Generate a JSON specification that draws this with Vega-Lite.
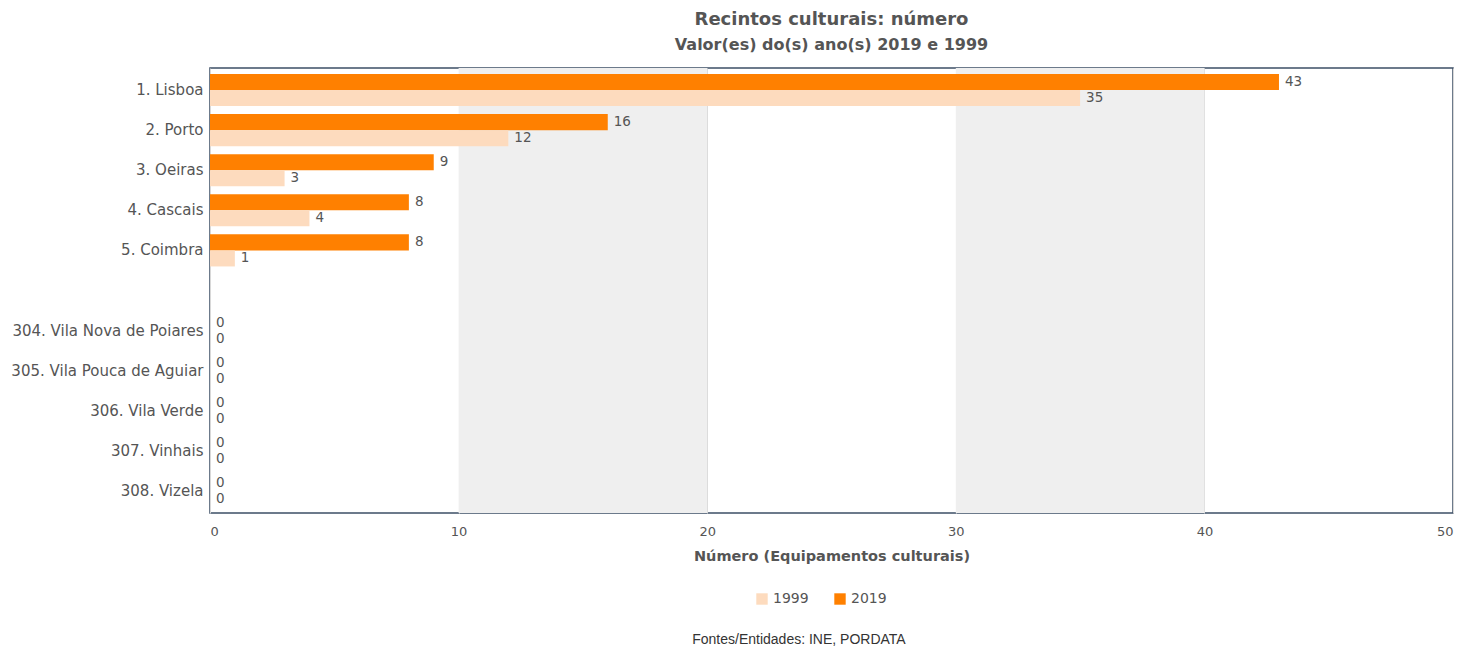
{
  "$schema": "https://vega.github.io/schema/vega-lite/v6.json",
  "background": "white",
  "padding": {"left": 10, "top": 10, "right": 20, "bottom": 2},
  "title": {"text": "Fontes/Entidades: INE, PORDATA", "orient": "bottom", "anchor": "middle", "font": "Liberation Sans", "fontSize": 14, "fontWeight": "normal", "color": "#333333", "offset": 27, "dx": 67},
  "datasets": {
    "bars": [
      {"city": "1. Lisboa", "year": "2019", "value": 43},
      {"city": "1. Lisboa", "year": "1999", "value": 35},
      {"city": "2. Porto", "year": "2019", "value": 16},
      {"city": "2. Porto", "year": "1999", "value": 12},
      {"city": "3. Oeiras", "year": "2019", "value": 9},
      {"city": "3. Oeiras", "year": "1999", "value": 3},
      {"city": "4. Cascais", "year": "2019", "value": 8},
      {"city": "4. Cascais", "year": "1999", "value": 4},
      {"city": "5. Coimbra", "year": "2019", "value": 8},
      {"city": "5. Coimbra", "year": "1999", "value": 1},
      {"city": "304. Vila Nova de Poiares", "year": "2019", "value": 0},
      {"city": "304. Vila Nova de Poiares", "year": "1999", "value": 0},
      {"city": "305. Vila Pouca de Aguiar", "year": "2019", "value": 0},
      {"city": "305. Vila Pouca de Aguiar", "year": "1999", "value": 0},
      {"city": "306. Vila Verde", "year": "2019", "value": 0},
      {"city": "306. Vila Verde", "year": "1999", "value": 0},
      {"city": "307. Vinhais", "year": "2019", "value": 0},
      {"city": "307. Vinhais", "year": "1999", "value": 0},
      {"city": "308. Vizela", "year": "2019", "value": 0},
      {"city": "308. Vizela", "year": "1999", "value": 0}
    ],
    "bands": [
      {"start": 10, "end": 20},
      {"start": 30, "end": 40}
    ]
  },
  "vconcat": [
    {
      "width": 1243,
      "height": 445,
      "title": {
        "text": "Recintos culturais: número",
        "subtitle": "Valor(es) do(s) ano(s) 2019 e 1999",
        "anchor": "middle",
        "font": "DejaVu Sans",
        "fontSize": 18,
        "fontWeight": "bold",
        "color": "#555555",
        "subtitleFont": "DejaVu Sans",
        "subtitleFontSize": 16,
        "subtitleFontWeight": "bold",
        "subtitleColor": "#555555",
        "subtitlePadding": 8,
        "offset": 15
      },
      "layer": [
        {
          "data": {"name": "bands"},
          "mark": {"type": "rect", "color": "#efefef"},
          "encoding": {
            "x": {"field": "start", "type": "quantitative", "scale": {"domain": [0, 50]}},
            "x2": {"field": "end"}
          }
        },
        {
          "data": {"name": "bars"},
          "mark": {"type": "bar"},
          "encoding": {
            "y": {
              "field": "city", "type": "nominal",
              "scale": {"domain": ["1. Lisboa", "2. Porto", "3. Oeiras", "4. Cascais", "5. Coimbra", " ", "304. Vila Nova de Poiares", "305. Vila Pouca de Aguiar", "306. Vila Verde", "307. Vinhais", "308. Vizela"], "paddingInner": 0.2, "paddingOuter": 0.15},
              "axis": {"title": null, "domain": false, "ticks": false, "labelPadding": 7, "labelLimit": 400, "labelFont": "DejaVu Sans", "labelFontSize": 15, "labelColor": "#555555"}
            },
            "yOffset": {"field": "year", "type": "nominal", "sort": ["2019", "1999"], "scale": {"paddingInner": 0}},
            "x": {
              "field": "value", "type": "quantitative",
              "scale": {"domain": [0, 50]},
              "axis": {"title": "Número (Equipamentos culturais)", "values": [0, 10, 20, 30, 40, 50], "grid": true, "gridColor": "#d8d8d8", "domain": false, "ticks": false, "labelPadding": 12, "labelFont": "DejaVu Sans", "labelFontSize": 13, "labelColor": "#555555", "titleFont": "DejaVu Sans", "titleFontSize": 14.5, "titleFontWeight": "bold", "titleColor": "#555555", "titlePadding": 11}
            },
            "color": {
              "field": "year", "type": "nominal",
              "scale": {"domain": ["1999", "2019"], "range": ["#fddbbe", "#ff8000"]},
              "legend": {"title": null, "orient": "none", "legendX": 545, "legendY": 524, "direction": "horizontal", "symbolType": "square", "symbolSize": 130, "labelFont": "DejaVu Sans", "labelFontSize": 14, "labelColor": "#555555", "columnPadding": 24}
            }
          }
        },
        {
          "data": {"name": "bars"},
          "mark": {"type": "text", "align": "left", "baseline": "middle", "dx": 6, "font": "DejaVu Sans", "fontSize": 13.5, "color": "#555555"},
          "encoding": {
            "y": {"field": "city", "type": "nominal"},
            "yOffset": {"field": "year", "type": "nominal", "sort": ["2019", "1999"]},
            "x": {"field": "value", "type": "quantitative"},
            "text": {"field": "value", "type": "quantitative"}
          }
        }
      ]
    }
  ],
  "config": {
    "view": {"stroke": "#3d4f66", "strokeWidth": 1.5}
  }
}
